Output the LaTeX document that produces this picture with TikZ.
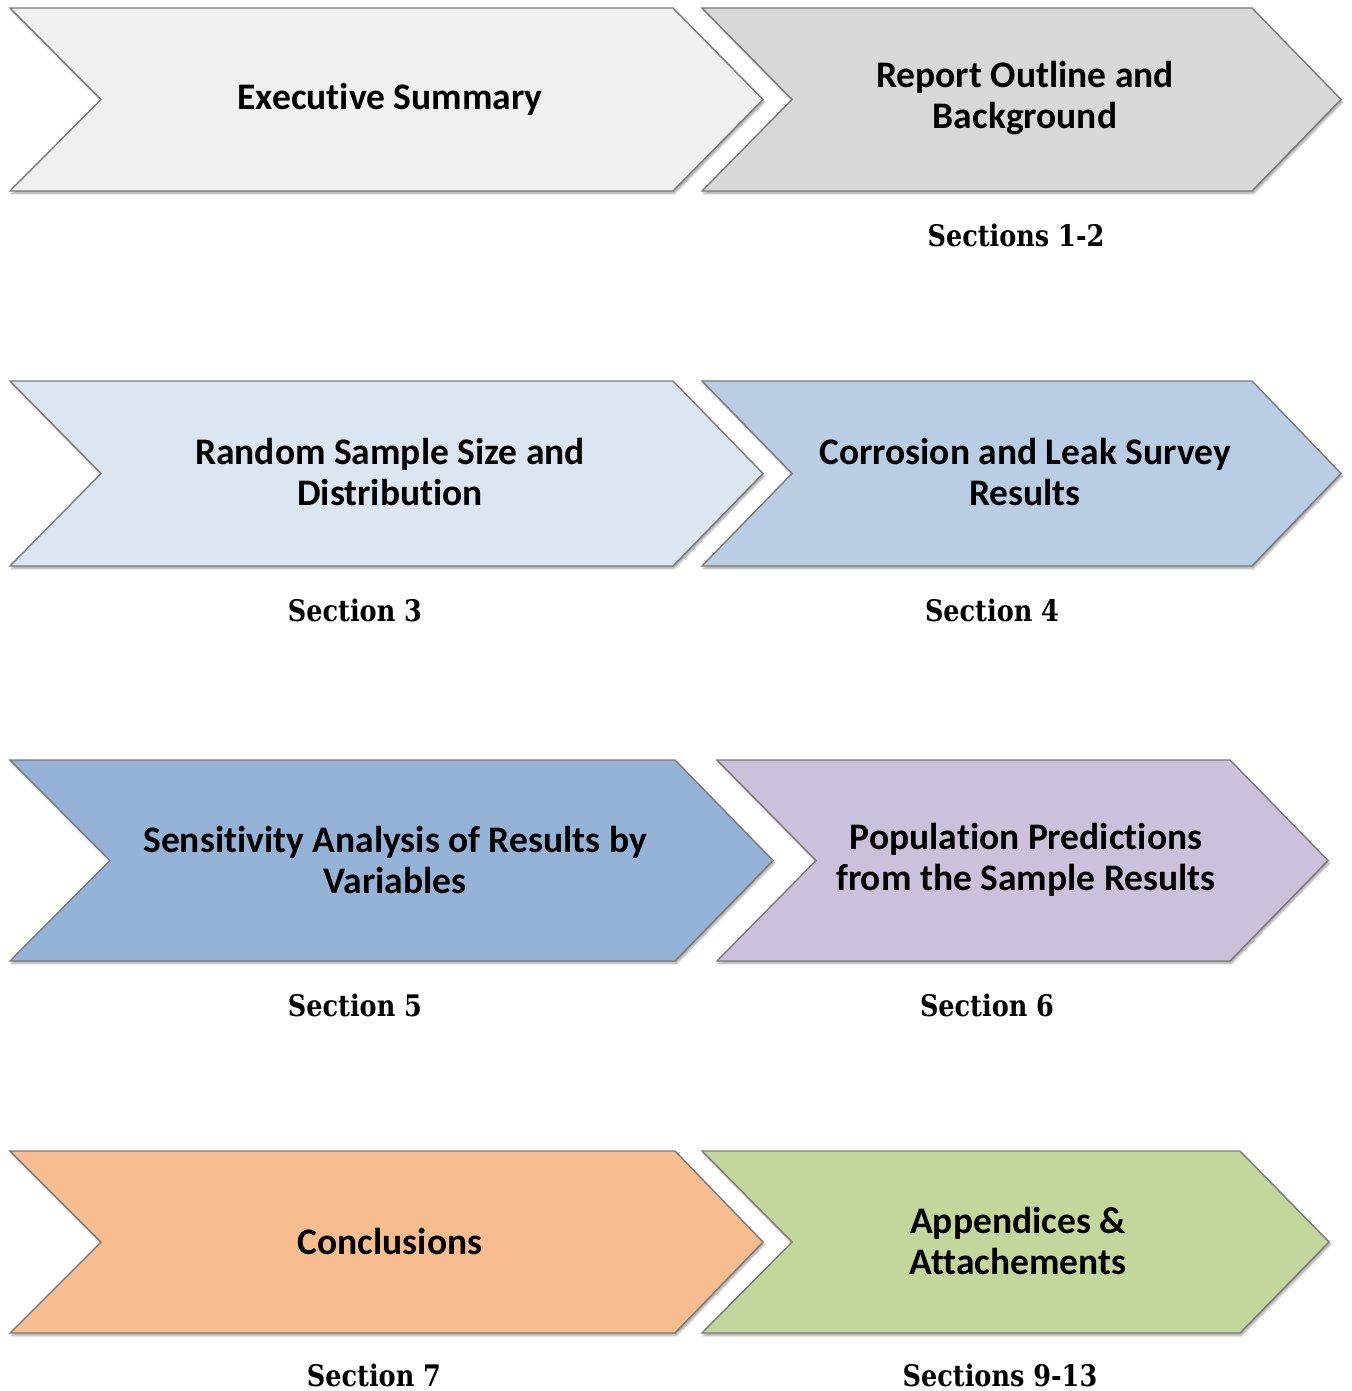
\documentclass[tikz,border=0pt]{standalone}
\usepackage{fontspec}
\setmainfont{Carlito}[Ligatures=CommonOff]
\newfontfamily\secfont{DejaVu Serif}[FakeStretch=0.86]
\usepackage{tikz}
\usetikzlibrary{shadows.blur}

\definecolor{execgray}{HTML}{F0F0F0}
\definecolor{reportgray}{HTML}{D8D8D8}
\definecolor{sampleblue}{HTML}{DCE6F2}
\definecolor{surveyblue}{HTML}{B9CDE5}
\definecolor{sensblue}{HTML}{95B3D7}
\definecolor{predlilac}{HTML}{CCC1DA}
\definecolor{conclorange}{HTML}{F8BD8E}
\definecolor{appgreen}{HTML}{C3D69B}
\definecolor{edgegray}{HTML}{7A7A7A}

\begin{document}
\begin{tikzpicture}[
    x=1pt, y=-1pt,
    chevron/.style={draw=edgegray, line width=1.4pt, line join=miter,
        blur shadow={shadow xshift=1.5pt, shadow yshift=-2.5pt, shadow opacity=35, shadow blur steps=6}},
    title/.style={font=\fontsize{37.5}{41}\selectfont\bfseries, align=center, text=black},
    section/.style={font=\secfont\fontsize{29.7}{34}\selectfont\bfseries, text=black},
]
    \useasboundingbox (0,0) rectangle (1351,1391);

    % row 1
    \draw [chevron, fill=execgray] (10,8) -- (673,8) -- (763,99.5) -- (673,191) -- (10,191) -- (101,99.5) -- cycle;
    \draw [chevron, fill=reportgray] (702,8) -- (1252,8) -- (1341,99.5) -- (1252,191) -- (702,191) -- (792,99.5) -- cycle;
    \node (exec) [title] at (390,99) {Executive Summary};
    \node (report) [title] at (1025,98) {Report Outline and\\Background};
    \node (sec12) [section] at (1016,235) {Sections 1-2};

    % row 2
    \draw [chevron, fill=sampleblue] (10,381) -- (673,381) -- (763,473.5) -- (673,566) -- (10,566) -- (101,473.5) -- cycle;
    \draw [chevron, fill=surveyblue] (702,381) -- (1252,381) -- (1341,473.5) -- (1252,566) -- (702,566) -- (792,473.5) -- cycle;
    \node (sample) [title] at (390,472) {Random Sample Size and\\Distribution};
    \node (survey) [title] at (1025,472) {Corrosion and Leak Survey\\Results};
    \node (sec3) [section] at (355,610) {Section 3};
    \node (sec4) [section] at (992,610) {Section 4};

    % row 3
    \draw [chevron, fill=sensblue] (10,760) -- (675,760) -- (773,860.5) -- (675,961) -- (10,961) -- (110,860.5) -- cycle;
    \draw [chevron, fill=predlilac] (717,760) -- (1230,760) -- (1328,860.5) -- (1230,961) -- (717,961) -- (816,860.5) -- cycle;
    \node (sens) [title] at (395,860) {Sensitivity Analysis of Results by\\Variables};
    \node (pred) [title] at (1026,860) {Population Predictions\\from the Sample Results};
    \node (sec5) [section] at (355,1005) {Section 5};
    \node (sec6) [section] at (987,1005) {Section 6};

    % row 4
    \draw [chevron, fill=conclorange] (10,1151) -- (675,1151) -- (763,1242) -- (675,1333) -- (10,1333) -- (101,1242) -- cycle;
    \draw [chevron, fill=appgreen] (702,1151) -- (1240,1151) -- (1329,1242) -- (1240,1333) -- (702,1333) -- (792,1242) -- cycle;
    \node (concl) [title] at (390,1241) {Conclusions};
    \node (append) [title] at (1018,1241) {Appendices \&\\Attachements};
    \node (sec7) [section] at (374,1375) {Section 7};
    \node (sec913) [section] at (1000,1375) {Sections 9-13};

\end{tikzpicture}
\end{document}
